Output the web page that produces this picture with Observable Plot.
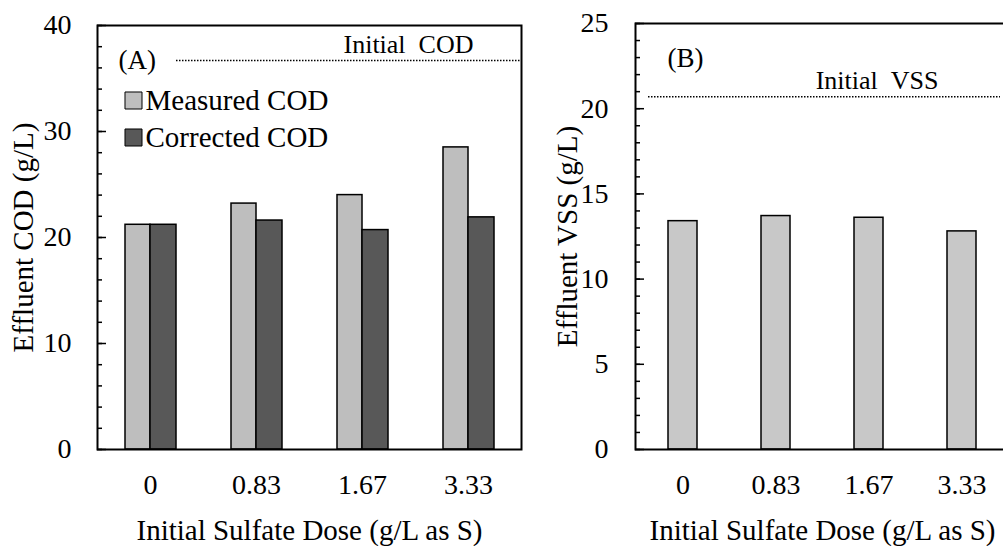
<!DOCTYPE html>
<html>
<head>
<meta charset="utf-8">
<script src="https://cdn.jsdelivr.net/npm/d3@7"></script>
<script src="https://cdn.jsdelivr.net/npm/@observablehq/plot@0.6"></script>
<style>
  html, body { margin: 0; padding: 0; background: #fff; }
  #wrap { position: relative; width: 1003px; height: 546px; overflow: hidden; background: #fff; }
  #wrap svg { position: absolute; top: 0; background: transparent; }
</style>
</head>
<body>
<div id="wrap"></div>
<script>
// ---- data ----
const doses = ["0", "0.83", "1.67", "3.33"];
const series = ["Measured COD", "Corrected COD"];
const measuredCOD = [21.2, 23.2, 24.0, 28.5];
const correctedCOD = [21.2, 21.6, 20.7, 21.9];
const effluentVSS = [13.4, 13.7, 13.6, 12.8];
const initialCOD = 36.7;
const initialVSS = 20.7;
const codTicks = [0, 10, 20, 30, 40];
const codMinor = d3.range(0, 41, 2);
const vssTicks = [0, 5, 10, 15, 20, 25];
const vssMinor = d3.range(0, 26, 1);
const colorsA = ["#bebebe", "#585858"];
const colorB = "#c8c8c8";

const font = "'Liberation Serif', 'Times New Roman', serif";
const tableMeasured = doses.map((d, i) => ({dose: d, value: measuredCOD[i]}));
const tableCorrected = doses.map((d, i) => ({dose: d, value: correctedCOD[i]}));
const tableVSS = doses.map((d, i) => ({dose: d, value: effluentVSS[i]}));

const wrap = document.getElementById("wrap");

// ---- Panel A ----
const wA = 424; // plot width
const plotA = Plot.plot({
  width: 540, height: 546,
  marginLeft: 97, marginRight: 19, marginTop: 25, marginBottom: 97,
  style: {fontFamily: font, fontSize: "28px", color: "black", background: "transparent", overflow: "visible"},
  x: {type: "band", domain: doses, padding: 0, tickSize: 0, tickPadding: 25, label: null},
  y: {domain: [0, 40], ticks: codTicks, tickSize: 0, tickPadding: 26, label: null},
  marks: [
    Plot.barY(tableMeasured, {x: "dose", y: "value", fill: colorsA[0], stroke: "black", strokeWidth: 1.5, insetLeft: 28, insetRight: 53}),
    Plot.barY(tableCorrected, {x: "dose", y: "value", fill: colorsA[1], stroke: "black", strokeWidth: 1.5, insetLeft: 53, insetRight: 27}),
    Plot.ruleY(codMinor, {y: d => d, stroke: "black", strokeWidth: 1.5, insetRight: wA - 5}),
    Plot.ruleY(codTicks, {y: d => d, stroke: "black", strokeWidth: 1.5, insetRight: wA - 9}),
    Plot.ruleY([initialCOD], {y: d => d, stroke: "black", strokeWidth: 1.3, strokeDasharray: "1.5,1.5", insetLeft: 79, insetRight: 1}),
    Plot.text([initialCOD], {y: d => d, text: () => "(A)", frameAnchor: "left", dx: 21, textAnchor: "start", lineAnchor: "middle", fontSize: 27}),
    Plot.text([initialCOD], {y: d => d, text: () => "Initial\u00a0\u00a0COD", frameAnchor: "right", dx: -48, dy: -16, textAnchor: "end", lineAnchor: "middle", fontSize: 26}),
    Plot.dot([series[0]], {frameAnchor: "top-left", dx: 36, dy: 75, symbol: "square", r: 9.6, fill: colorsA[0], stroke: "black", strokeWidth: 1}),
    Plot.dot([series[1]], {frameAnchor: "top-left", dx: 36, dy: 112, symbol: "square", r: 9.6, fill: colorsA[1], stroke: "black", strokeWidth: 1}),
    Plot.text([series[0]], {text: d => d, frameAnchor: "top-left", dx: 48, dy: 75, textAnchor: "start", lineAnchor: "middle", fontSize: 29}),
    Plot.text([series[1]], {text: d => d, frameAnchor: "top-left", dx: 48, dy: 112, textAnchor: "start", lineAnchor: "middle", fontSize: 29}),
    Plot.text(["Effluent COD (g/L)"], {text: d => d, frameAnchor: "left", textAnchor: "middle", lineAnchor: "middle", rotate: -90, dx: -74, fontSize: 29}),
    Plot.text(["Initial Sulfate Dose (g/L as S)"], {text: d => d, frameAnchor: "bottom", textAnchor: "middle", lineAnchor: "middle", dy: 81, fontSize: 29}),
    Plot.frame({stroke: "black", strokeWidth: 2})
  ]
});
plotA.style.left = "0px";
wrap.appendChild(plotA);

// ---- Panel B ----
const wB = 374;
const plotB = Plot.plot({
  width: 479, height: 546,
  marginLeft: 105, marginRight: 0, marginTop: 23, marginBottom: 97,
  style: {fontFamily: font, fontSize: "28px", color: "black", background: "transparent", overflow: "visible"},
  x: {type: "band", domain: doses, padding: 0, tickSize: 0, tickPadding: 25, label: null},
  y: {domain: [0, 25], ticks: vssTicks, tickSize: 0, tickPadding: 27, label: null},
  marks: [
    Plot.barY(tableVSS, {x: "dose", y: "value", fill: colorB, stroke: "black", strokeWidth: 1.5, insetLeft: 32, insetRight: 32}),
    Plot.ruleY(vssMinor, {y: d => d, stroke: "black", strokeWidth: 1.5, insetRight: wB - 5}),
    Plot.ruleY(vssTicks, {y: d => d, stroke: "black", strokeWidth: 1.5, insetRight: wB - 9}),
    Plot.ruleY([initialVSS], {y: d => d, stroke: "black", strokeWidth: 1.3, strokeDasharray: "1.5,1.5", insetLeft: 13, insetRight: 9}),
    Plot.text(["(B)"], {text: d => d, frameAnchor: "top-left", dx: 32, dy: 35, textAnchor: "start", lineAnchor: "middle", fontSize: 27}),
    Plot.text([initialVSS], {y: d => d, text: () => "Initial\u00a0\u00a0VSS", frameAnchor: "right", dx: -71, dy: -16, textAnchor: "end", lineAnchor: "middle", fontSize: 26}),
    Plot.text(["Effluent VSS (g/L)"], {text: d => d, frameAnchor: "left", textAnchor: "middle", lineAnchor: "middle", rotate: -90, dx: -68, fontSize: 29}),
    Plot.text(["Initial Sulfate Dose (g/L as S)"], {text: d => d, frameAnchor: "bottom", textAnchor: "middle", lineAnchor: "middle", dy: 81, fontSize: 29}),
    Plot.frame({stroke: "black", strokeWidth: 2})
  ]
});
plotB.style.left = "530px";
wrap.appendChild(plotB);
</script>
</body>
</html>
